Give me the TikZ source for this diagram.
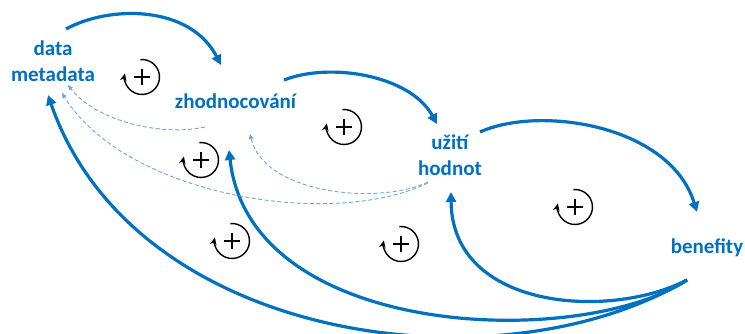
\documentclass[tikz,border=0pt]{standalone}
\usepackage{fontspec}
\setmainfont{Carlito}
\usetikzlibrary{arrows.meta}
\definecolor{mainblue}{HTML}{0070C0}
\definecolor{lightblue}{HTML}{6FA6DA}
\tikzset{
  concept/.style={inner sep=0pt, anchor=base, align=center, text=mainblue,
    font=\bfseries\fontsize{21}{26}\selectfont},
  flow/.style={draw=mainblue, line width=3.2pt, -{Triangle[length=10pt,width=10pt]}},
  weak/.style={draw=lightblue, line width=0.9pt, dash pattern=on 4pt off 2.5pt,
    -{Triangle[length=5pt,width=4.5pt]}},
  pics/reinf/.style={code={
    \draw[line width=1.4pt, -{Stealth[length=7.5pt,width=6.5pt]}]
      (95:17.5) arc[start angle=95, end angle=-192, radius=17.5];
    \draw[line width=2.2pt] (-8,0) -- (8,0) (0,-8) -- (0,8);
  }}
}
\begin{document}
\begin{tikzpicture}[x=1pt,y=1pt]
\useasboundingbox[fill=white] (0,-333) rectangle (745,0);
% nodes (base = baseline of the last line)
\node[concept] (dm) at (53,-81) {data\\metadata};
\node[concept] (zh) at (235.5,-108) {zhodnocování};
\node[concept] (uh) at (450,-175) {užití\\hodnot};
\node[concept] (ben) at (707,-253) {benefity};
% loop symbols
\pic (l1) at (142,-77) {reinf};
\pic (l2) at (344,-127) {reinf};
\pic (l3) at (201,-160) {reinf};
\pic (l4) at (232,-241) {reinf};
\pic (l5) at (401,-244) {reinf};
\pic (l6) at (575,-207) {reinf};
% main flows
\draw[flow] ([shift={(13,52)}]dm.base) .. controls +(44,24) and +(-31,60) .. ([shift={(-14.5,43)}]zh.base);
\draw[flow] ([shift={(48.5,28)}]zh.base) .. controls +(46,18) and +(-27,49) .. ([shift={(-13,51)}]uh.base);
\draw[flow] ([shift={(30,43)}]uh.base) .. controls +(60,27) and +(-27,87) .. ([shift={(-10,41)}]ben.base);
\draw[flow] ([shift={(-20,-27)}]ben.base) .. controls +(-77,-40) and +(1,-118) .. ([shift={(1,-17)}]uh.base);
\draw[flow] ([shift={(-20,-27)}]ben.base) .. controls +(-107,-70) and +(21,-190) .. ([shift={(-6.5,-42)}]zh.base);
\draw[flow] ([shift={(-20,-27)}]ben.base) .. controls +(-189,-112) and +(85.5,-247.5) .. ([shift={(-5,-14)}]dm.base);
% weak (dashed) links
\draw[weak] ([shift={(-30.5,-19)}]zh.base) .. controls +(-45,-10) and +(27,-35) .. ([shift={(15,-4)}]dm.base);
\draw[weak] ([shift={(-22,-7)}]uh.base) .. controls +(-48,-23) and +(15,-61) .. ([shift={(14.5,-26)}]zh.base);
\draw[weak] ([shift={(-22,-8)}]uh.base) .. controls +(-98,-47) and +(63,-102) .. ([shift={(9,-12)}]dm.base);
\end{tikzpicture}
\end{document}
